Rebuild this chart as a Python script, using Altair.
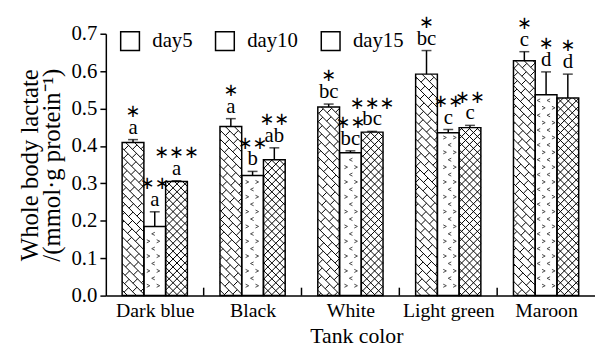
import altair as alt
import pandas as pd
import numpy as np

categories = ["Dark blue", "Black", "White", "Light green", "Maroon"]
days = ["day5", "day10", "day15"]
day5_mean = [0.409, 0.452, 0.504, 0.592, 0.628]
day5_err = [0.008, 0.021, 0.008, 0.063, 0.024]
day10_mean = [0.185, 0.321, 0.382, 0.435, 0.537]
day10_err = [0.039, 0.011, 0.005, 0.009, 0.061]
day15_mean = [0.305, 0.363, 0.437, 0.449, 0.528]
day15_err = [0.002, 0.032, 0.002, 0.006, 0.064]
day5_letters = ["a", "a", "bc", "bc", "c"]
day10_letters = ["a", "b", "bc", "c", "d"]
day15_letters = ["a", "ab", "bc", "c", "d"]
day5_stars = ["*", "*", "*", "*", "*"]
day10_stars = ["**", "**", "**", "**", "*"]
day15_stars = ["***", "**", "***", "**", "*"]
y_ticks = [0.0, 0.1, 0.2, 0.3, 0.4, 0.5, 0.6, 0.7]
x_boundaries = [1, 2, 3, 4]

W, H = 495, 265
YMAX = 0.7
NCAT = len(categories)
BAR_W = 2 / 9
GROUP_OFF = (1 - 3 * BAR_W) / 2
FONT = "Liberation Serif"

means = [day5_mean, day10_mean, day15_mean]
errs = [day5_err, day10_err, day15_err]
letters = [day5_letters, day10_letters, day15_letters]
stars = [day5_stars, day10_stars, day15_stars]

rows = []
for j, d in enumerate(days):
    for i, c in enumerate(categories):
        x0 = i + GROUP_OFF + j * BAR_W
        rows.append(dict(cat=c, day=d, x0=x0, x1=x0 + BAR_W, xc=x0 + BAR_W / 2,
                         v=means[j][i], top=means[j][i] + errs[j][i],
                         letter=letters[j][i], star=stars[j][i].replace("*", "\u2217")))
df = pd.DataFrame(rows)

# ---- hatch decoration derived from the bar rectangles ----
def to_px(x, y):
    return x * W / NCAT, H - y * H / YMAX

def to_data(px, py):
    return px * NCAT / W, (H - py) * YMAX / H

def clip(xa, ya, xb, yb, x0, x1, y0, y1):
    dx, dy = xb - xa, yb - ya
    t0, t1 = 0.0, 1.0
    for p, q in ((-dx, xa - x0), (dx, x1 - xa), (-dy, ya - y0), (dy, y1 - ya)):
        if p == 0:
            if q < 0:
                return None
        else:
            t = q / p
            if p < 0:
                t0 = max(t0, t)
            else:
                t1 = min(t1, t)
    if t0 >= t1:
        return None
    return xa + t0 * dx, ya + t0 * dy, xa + t1 * dx, ya + t1 * dy

segs = []
pts = []
for r in rows:
    px0, py0 = to_px(r["x0"], r["v"])
    px1, py1 = to_px(r["x1"], 0)
    def add(xa, ya, xb, yb):
        s = clip(xa, ya, xb, yb, px0, px1, py0, py1)
        if s and (abs(s[2] - s[0]) + abs(s[3] - s[1])) > 0.5:
            a = to_data(s[0], s[1]); b = to_data(s[2], s[3])
            segs.append(dict(xa=a[0], ya=a[1], xb=b[0], yb=b[1]))
    if r["day"] == "day5":
        S, D = 9, 16
        for k in range(-80, 120):
            c = k * S
            add(c + py0, py0, c + py1, py1)
            for m in range(0, 80):
                dd = m * D + (k % 2) * D / 2
                add((dd + c) / 2, (dd - c) / 2, (dd + c + S) / 2, (dd - c - S) / 2)
    elif r["day"] == "day15":
        S = 8
        for k in range(-80, 200):
            c = k * S
            add(c + py0, py0, c + py1, py1)
            add(c - py0, py0, c - py1, py1)
    else:
        for rr in range(0, 40):
            yy = rr * 7.5
            for a in range(0, 60):
                xx = a * 10 + (3 if rr % 2 == 0 else 8)
                if px0 + 3 <= xx <= px1 - 3 and py0 + 4 <= yy <= py1 - 3:
                    dx_, dy_ = to_data(xx, yy)
                    pts.append(dict(px=dx_, py=dy_, kind="gt" if rr % 2 == 0 else "lt"))
seg_df = pd.DataFrame(segs)
pt_df = pd.DataFrame(pts)

xscale = alt.Scale(domain=[0, NCAT], nice=False, zero=False)
yscale = alt.Scale(domain=[0, YMAX], nice=False)

label_expr = "datum.value < 5 ? " + str(categories) + "[datum.value] : ''"

AX_X = alt.Axis(values=[0, 1, 2, 3, 4, 5], labelExpr=label_expr, labelOffset=W / NCAT / 2,
                labelFlush=False, labelOverlap=False, labelBound=False,
                ticks=False, grid=False, title="Tank color", domainColor="black",
                domainWidth=1.5, labelFont=FONT, labelFontSize=20, labelColor="black",
                labelPadding=5, titleFont=FONT, titleFontSize=22, titleFontWeight="normal",
                titleColor="black", titlePadding=5, titleX=W / 2 + 6)
AX_Y = alt.Axis(values=y_ticks, tickCount=8, format=".1f", grid=False, tickSize=6,
                tickColor="black", labelFlush=False, labelOverlap=False, labelBound=False,
                tickWidth=1.5, domainColor="black", domainWidth=1.5, labelFont=FONT,
                labelFontSize=21, labelColor="black", labelPadding=3,
                title=["Whole body lactate", "/(mmol\u00b7g protein\u207b\u00b9)"],
                titleFont=FONT, titleFontSize=25, titleFontWeight="normal",
                titleColor="black", titlePadding=7, titleLineHeight=22)


def X(field):
    return alt.X(field, scale=xscale, axis=AX_X)


def Y(field):
    return alt.Y(field, scale=yscale, axis=AX_Y)


base = alt.Chart(df)
bars = base.mark_bar(stroke=None).encode(
    x=X("x0:Q"), x2="x1:Q", y=Y("v:Q"), y2=alt.datum(0),
    fill=alt.Fill("day:N", sort=days, scale=alt.Scale(domain=days, range=["white", "white", "white"]),
                  legend=alt.Legend(title=None, orient="none", legendX=14, legendY=-3, direction="horizontal",
                                    symbolType="square", symbolSize=360, symbolStrokeColor="black",
                                    symbolStrokeWidth=1.5, labelFont=FONT, labelFontSize=21,
                                    labelColor="black", labelOffset=12, columnPadding=20, padding=0)),
)

hatch = alt.Chart(seg_df).mark_rule(color="black", strokeWidth=1).encode(
    x=X("xa:Q"), y=Y("ya:Q"), x2="xb:Q", y2="yb:Q")

gt = alt.Chart(pt_df).transform_filter("datum.kind == 'gt'").mark_point(
    shape="M-1,-1L1,0L-1,1", size=10, color="black", strokeWidth=1, filled=False
).encode(x=X("px:Q"), y=Y("py:Q"))
lt = alt.Chart(pt_df).transform_filter("datum.kind == 'lt'").mark_point(
    shape="M1,-1L-1,0L1,1", size=10, color="black", strokeWidth=1, filled=False
).encode(x=X("px:Q"), y=Y("py:Q"))

outline = base.mark_bar(fill=None, stroke="black", strokeWidth=1.5).encode(
    x=X("x0:Q"), x2="x1:Q", y=Y("v:Q"), y2=alt.datum(0))

err = base.mark_rule(color="black", strokeWidth=1.5).encode(
    x=X("xc:Q"), y=Y("v:Q"), y2="top:Q")
cap = base.mark_tick(color="black", thickness=1.5, size=10, orient="horizontal").encode(
    x=X("xc:Q"), y=Y("top:Q"))

letter_txt = base.mark_text(font=FONT, fontSize=21, baseline="alphabetic", dy=-6, color="black").encode(
    x=X("xc:Q"), y=Y("top:Q"), text="letter:N")
star_txt = base.mark_text(font="DejaVu Sans", fontSize=18, baseline="middle", dy=-28, color="black").encode(
    x=X("xc:Q"), y=Y("top:Q"), text="star:N")

tick_df = pd.DataFrame({"b": x_boundaries})
xticks = alt.Chart(tick_df).mark_rule(color="black", strokeWidth=1.5).encode(
    x=X("b:Q"), y=alt.value(H), y2=alt.value(H - 8))

chart = alt.layer(bars, hatch, gt, lt, outline, err, cap, letter_txt, star_txt, xticks).properties(
    width=W, height=H, autosize=alt.AutoSizeParams(type="none"),
    padding={"left": 99, "top": 24, "right": 0, "bottom": 52},
).configure_view(stroke=None).configure_axis(labelAngle=0)

chart.save("out.html", embed_options={"renderer": "svg", "actions": False})
